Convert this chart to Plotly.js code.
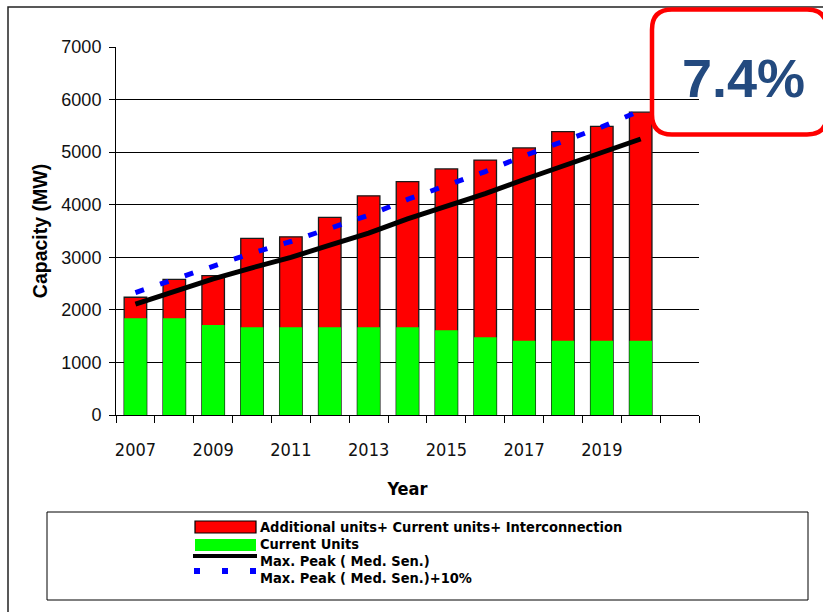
<!DOCTYPE html>
<html>
<head>
<meta charset="utf-8">
<script src="https://cdn.plot.ly/plotly-3.0.1.min.js"></script>
<style>
  html, body { margin: 0; padding: 0; background: #fff; }
  #chart { width: 823px; height: 612px; }
</style>
</head>
<body>
<div id="chart"></div>
<script>
// ---- data ----
const years = [2007, 2008, 2009, 2010, 2011, 2012, 2013, 2014, 2015, 2016, 2017, 2018, 2019, 2020];
const totalCapacity = [2240, 2580, 2650, 3360, 3390, 3760, 4170, 4440, 4680, 4850, 5080, 5390, 5490, 5760];
const currentUnits = [1840, 1840, 1710, 1670, 1670, 1670, 1670, 1670, 1610, 1480, 1410, 1410, 1410, 1410];
const maxPeak = [2110, 2350, 2590, 2800, 3000, 3230, 3460, 3730, 3970, 4210, 4480, 4730, 4980, 5250];
const maxPeakPlus10 = [2330, 2580, 2850, 3080, 3300, 3550, 3800, 4100, 4370, 4630, 4930, 5200, 5480, 5790];
const tickYears = [2007, 2009, 2011, 2013, 2015, 2017, 2019];
const tickLabels = ['2007', '2009', '2011', '2013', '2015', '2017', '2019'];
const slotYears = [2007, 2008, 2009, 2010, 2011, 2012, 2013, 2014, 2015, 2016, 2017, 2018, 2019, 2020, 2021];
const seriesNames = [
  'Additional units+ Current units+ Interconnection',
  'Current Units',
  'Max. Peak ( Med. Sen.)',
  'Max. Peak ( Med. Sen.)+10%'
];
const growthLabel = '7.4%';
const yTitle = 'Capacity (MW)';
const xTitle = 'Year';

// ---- geometry helpers (pixel -> paper) ----
const L = 116, R = 699, T = 47, B = 415;
const PX = x => (x - L) / (R - L);
const PY = y => (B - y) / (B - T);

const narrow = '"Liberation Sans Narrow", "Arial Narrow", "DejaVu Sans Condensed", sans-serif';
const arial = '"Liberation Sans", Arial, sans-serif';

const slotBounds = slotYears.map(y => y - 0.5).concat([slotYears[slotYears.length - 1] + 0.5]);

const traces = [
  { type: 'bar', x: years, y: totalCapacity, name: seriesNames[0], width: 0.58,
    marker: { color: '#FF0000', line: { color: '#1a1a1a', width: 1.3 } }, hoverinfo: 'x+y' },
  { type: 'bar', x: years, y: currentUnits, name: seriesNames[1], width: 0.58,
    marker: { color: '#00FF00', line: { width: 0 } }, hoverinfo: 'x+y' },
  { type: 'scatter', mode: 'lines', x: years, y: maxPeak, name: seriesNames[2],
    line: { color: '#000000', width: 5 } },
  { type: 'scatter', mode: 'lines', x: years, y: maxPeakPlus10, name: seriesNames[3],
    line: { color: '#0000FF', width: 5, dash: '9px,17px' } }
];

// rounded box path for growth label
const bx0 = 652, bx1 = 827, by0 = 9.5, by1 = 134.5, rr = 20;
const P = (x, y) => PX(x) + ',' + PY(y);
const boxPath = 'M' + P(bx0 + rr, by0) + ' L' + P(bx1 - rr, by0) + ' Q' + P(bx1, by0) + ' ' + P(bx1, by0 + rr) +
  ' L' + P(bx1, by1 - rr) + ' Q' + P(bx1, by1) + ' ' + P(bx1 - rr, by1) +
  ' L' + P(bx0 + rr, by1) + ' Q' + P(bx0, by1) + ' ' + P(bx0, by1 - rr) +
  ' L' + P(bx0, by0 + rr) + ' Q' + P(bx0, by0) + ' ' + P(bx0 + rr, by0) + ' Z';

const shapes = [
  // outer frame
  { type: 'rect', xref: 'paper', yref: 'paper', x0: PX(8), x1: PX(845), y0: PY(7), y1: PY(640),
    line: { color: '#222', width: 1.5 }, fillcolor: 'rgba(0,0,0,0)' },
  // legend box
  { type: 'rect', xref: 'paper', yref: 'paper', x0: PX(47), x1: PX(808), y0: PY(512), y1: PY(600),
    line: { color: '#000', width: 1 }, fillcolor: 'rgba(0,0,0,0)' },
  // legend swatches
  { type: 'rect', xref: 'paper', yref: 'paper', x0: PX(195), x1: PX(256), y0: PY(521), y1: PY(533),
    line: { color: '#000', width: 1.2 }, fillcolor: '#FF0000' },
  { type: 'rect', xref: 'paper', yref: 'paper', x0: PX(195), x1: PX(256), y0: PY(539), y1: PY(551),
    line: { width: 0 }, fillcolor: '#00FF00' },
  { type: 'line', xref: 'paper', yref: 'paper', x0: PX(193), x1: PX(257), y0: PY(556), y1: PY(556),
    line: { color: '#000', width: 4 } },
  { type: 'line', xref: 'paper', yref: 'paper', x0: PX(194), x1: PX(258), y0: PY(571), y1: PY(571),
    line: { color: '#0000FF', width: 6, dash: '6px,22px' } },
  // growth box
  { type: 'path', xref: 'paper', yref: 'paper', path: boxPath,
    line: { color: '#FF0000', width: 4.5 }, fillcolor: 'rgba(0,0,0,0)' }
];

const legendY = [526.5, 543.8, 561.1, 578.4];
const annotations = seriesNames.map((n, i) => ({
  xref: 'paper', yref: 'paper', x: PX(258), y: PY(legendY[i]), xanchor: 'left', yanchor: 'middle',
  text: '<b>' + n + '</b>', showarrow: false, font: { family: narrow, size: 14.5, color: '#000' }
}));
annotations.push({
  xref: 'paper', yref: 'paper', x: PX(743), y: PY(78), xanchor: 'center', yanchor: 'middle',
  text: '<b>' + growthLabel + '</b>', showarrow: false, font: { family: arial, size: 54, color: '#234A7F' }
});

const layout = {
  width: 823, height: 612,
  margin: { l: L, r: 823 - R, t: T, b: 612 - B, pad: 0 },
  paper_bgcolor: '#fff', plot_bgcolor: '#fff',
  barmode: 'overlay',
  showlegend: false,
  xaxis: {
    range: [2006.5, 2021.5], tickmode: 'array', tickvals: tickYears, ticktext: tickLabels,
    ticks: '', showline: true, linecolor: '#000', linewidth: 1, showgrid: false, zeroline: false,
    tickfont: { family: narrow, size: 18, color: '#111' }, ticklabelstandoff: 18,
    minor: { tickmode: 'array', tickvals: slotBounds, ticks: 'outside', ticklen: 7, tickcolor: '#000', tickwidth: 1, showgrid: false },
    title: { text: '<b>' + xTitle + '</b>', font: { family: narrow, size: 18, color: '#000' }, standoff: 23 },
    automargin: false, fixedrange: true
  },
  yaxis: {
    range: [0, 7000], tickmode: 'linear', tick0: 0, dtick: 1000,
    showgrid: true, gridcolor: '#000', gridwidth: 1, showline: true, linecolor: '#000', linewidth: 1,
    zeroline: false, ticks: 'outside', ticklen: 6, tickcolor: '#000', ticklabelstandoff: 4,
    tickfont: { family: arial, size: 18, color: '#111' },
    title: { text: '<b>' + yTitle + '</b>', font: { family: arial, size: 19.5, color: '#000' }, standoff: 8 },
    automargin: false, fixedrange: true
  },
  shapes: shapes,
  annotations: annotations
};

Plotly.newPlot('chart', traces, layout, { displayModeBar: false, staticPlot: true });
</script>
</body>
</html>
